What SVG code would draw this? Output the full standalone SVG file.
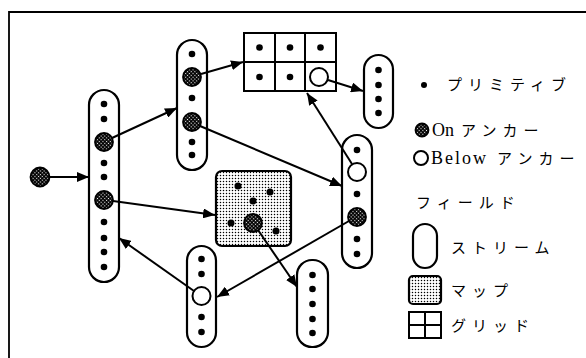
<svg xmlns="http://www.w3.org/2000/svg" width="586" height="358" viewBox="0 0 586 358">
<style>
.frame{fill:none;stroke:#000;stroke-width:1.8}
.st{fill:#fff;stroke:#000;stroke-width:2.2}
.pd{fill:#000}
.on{fill:url(#hatch);stroke:#000;stroke-width:1.8}
.below{fill:#fff;stroke:#000;stroke-width:2}
.map{fill:url(#stip);stroke:#000;stroke-width:2.2}
.grid{fill:#fff;stroke:#000;stroke-width:2}
.cn{stroke:#000;stroke-width:2;fill:none;marker-end:url(#ah)}
.jp{font-family:"Noto Sans CJK JP",sans-serif;font-size:15px;letter-spacing:6px;fill:#000}
.lat{font-family:"Liberation Serif","Noto Sans CJK JP",serif;font-size:18px;fill:#000}
</style>
<defs>
<pattern id="stip" width="3" height="3" patternUnits="userSpaceOnUse">
<rect width="3" height="3" fill="#fff"/>
<circle cx="1.5" cy="1.5" r="0.75" fill="#000"/>
</pattern>
<pattern id="hatch" width="2.6" height="2.6" patternUnits="userSpaceOnUse" patternTransform="rotate(45)">
<rect width="2.6" height="2.6" fill="#000"/>
<circle cx="1.3" cy="1.3" r="0.65" fill="#fff"/>
</pattern>
<marker id="ah" viewBox="0 0 12 10" refX="12" refY="5" markerWidth="12" markerHeight="10" markerUnits="userSpaceOnUse" orient="auto">
<path d="M0,0 L12,5 L0,10 z" fill="#000"/>
</marker>
</defs>
<rect width="586" height="358" fill="#fff"/>
<path class="frame" d="M9,358 V12 H586"/>

<g id="source">
<circle class="on" cx="40" cy="177" r="9.5"/>
</g>

<g id="streamA">
<rect class="st" x="89" y="90" width="30" height="192" rx="15"/>
<circle class="pd" cx="104" cy="104" r="3.3"/>
<circle class="pd" cx="104" cy="119" r="3.3"/>
<circle class="on" cx="104" cy="142" r="9"/>
<circle class="pd" cx="104" cy="163" r="3.3"/>
<circle class="pd" cx="104" cy="177" r="3.3"/>
<circle class="on" cx="104" cy="200" r="9"/>
<circle class="pd" cx="104" cy="222" r="3.3"/>
<circle class="pd" cx="104" cy="238" r="3.3"/>
<circle class="pd" cx="104" cy="252" r="3.3"/>
<circle class="pd" cx="104" cy="267" r="3.3"/>
</g>

<g id="streamB">
<rect class="st" x="177" y="40" width="30" height="130" rx="15"/>
<circle class="pd" cx="192" cy="54" r="3.3"/>
<circle class="on" cx="192" cy="77" r="9"/>
<circle class="pd" cx="192" cy="98" r="3.3"/>
<circle class="on" cx="192" cy="122" r="9"/>
<circle class="pd" cx="192" cy="142" r="3.3"/>
<circle class="pd" cx="192" cy="155" r="3.3"/>
</g>

<g id="grid">
<rect class="grid" x="244" y="33" width="92" height="58"/>
<path d="M275,33 V91 M305,33 V91 M244,62 H336" stroke="#000" stroke-width="2" fill="none"/>
<circle class="pd" cx="259.5" cy="47.5" r="3.3"/>
<circle class="pd" cx="290" cy="47.5" r="3.3"/>
<circle class="pd" cx="320.5" cy="47.5" r="3.3"/>
<circle class="pd" cx="259.5" cy="77" r="3.3"/>
<circle class="pd" cx="290" cy="77" r="3.3"/>
<circle class="below" cx="319" cy="77" r="9"/>
</g>

<g id="streamC">
<rect class="st" x="364" y="55" width="29" height="73" rx="14.5"/>
<circle class="pd" cx="378.5" cy="70" r="3.3"/>
<circle class="pd" cx="378.5" cy="85" r="3.3"/>
<circle class="pd" cx="378.5" cy="99" r="3.3"/>
<circle class="pd" cx="378.5" cy="113" r="3.3"/>
</g>

<g id="streamD">
<rect class="st" x="342" y="135" width="30" height="133" rx="15"/>
<circle class="pd" cx="357" cy="150" r="3.3"/>
<circle class="below" cx="357" cy="172" r="9"/>
<circle class="pd" cx="357" cy="194" r="3.3"/>
<circle class="on" cx="357" cy="217" r="9"/>
<circle class="pd" cx="357" cy="239" r="3.3"/>
<circle class="pd" cx="357" cy="254" r="3.3"/>
</g>

<g id="map">
<rect class="map" x="216" y="171" width="75" height="75" rx="6"/>
<circle class="pd" cx="238" cy="186" r="3.5"/>
<circle class="pd" cx="270" cy="192" r="3.5"/>
<circle class="pd" cx="253" cy="201" r="3.5"/>
<circle class="pd" cx="231" cy="223" r="3.5"/>
<circle class="pd" cx="276" cy="231" r="3.5"/>
<circle class="on" cx="253" cy="223" r="9"/>
</g>

<g id="streamE">
<rect class="st" x="187" y="246" width="29" height="101" rx="14.5"/>
<circle class="pd" cx="201.5" cy="259" r="3.3"/>
<circle class="pd" cx="201.5" cy="274" r="3.3"/>
<circle class="below" cx="201.5" cy="296" r="9"/>
<circle class="pd" cx="201.5" cy="317" r="3.3"/>
<circle class="pd" cx="201.5" cy="332" r="3.3"/>
</g>

<g id="streamF">
<rect class="st" x="297" y="260" width="31" height="87" rx="15"/>
<circle class="pd" cx="312.5" cy="275" r="3.3"/>
<circle class="pd" cx="312.5" cy="289" r="3.3"/>
<circle class="pd" cx="312.5" cy="304" r="3.3"/>
<circle class="pd" cx="312.5" cy="319" r="3.3"/>
<circle class="pd" cx="312.5" cy="333" r="3.3"/>
</g>

<g id="connectors">
<line class="cn" x1="50" y1="177" x2="89" y2="177"/>
<line class="cn" x1="112" y1="138" x2="177" y2="108"/>
<line class="cn" x1="201" y1="74" x2="243" y2="62"/>
<line class="cn" x1="328" y1="80" x2="363" y2="91"/>
<line class="cn" x1="352" y1="164" x2="307" y2="93"/>
<line class="cn" x1="200" y1="126" x2="342" y2="186"/>
<line class="cn" x1="113" y1="201" x2="215" y2="215"/>
<line class="cn" x1="194" y1="291" x2="119" y2="238"/>
<line class="cn" x1="349" y1="221" x2="217" y2="297"/>
<line class="cn" x1="258" y1="230" x2="297" y2="287"/>
</g>

<g id="legend">
<circle class="pd" cx="424" cy="85" r="3"/>
<text class="jp" x="447" y="90">プリミティブ</text>
<circle class="on" cx="422" cy="130" r="6.5"/>
<text class="lat" x="432" y="136">On</text>
<text class="jp" x="461" y="135.5">アンカー</text>
<circle class="below" cx="421" cy="158" r="7"/>
<text class="lat" x="431" y="164" style="letter-spacing:2px">Below</text>
<text class="jp" x="497" y="163.5">アンカー</text>
<text class="jp" x="416" y="207.5">フィールド</text>
<rect class="st" x="413" y="224" width="24" height="44" rx="12"/>
<text class="jp" x="451" y="252.5">ストリーム</text>
<rect class="map" x="409" y="276" width="32" height="28" rx="4"/>
<text class="jp" x="451" y="295.5">マップ</text>
<rect class="grid" x="409" y="312" width="32" height="26"/>
<path d="M425,312 V338 M409,325 H441" stroke="#000" stroke-width="2" fill="none"/>
<text class="jp" x="451" y="330.5">グリッド</text>
</g>
</svg>
